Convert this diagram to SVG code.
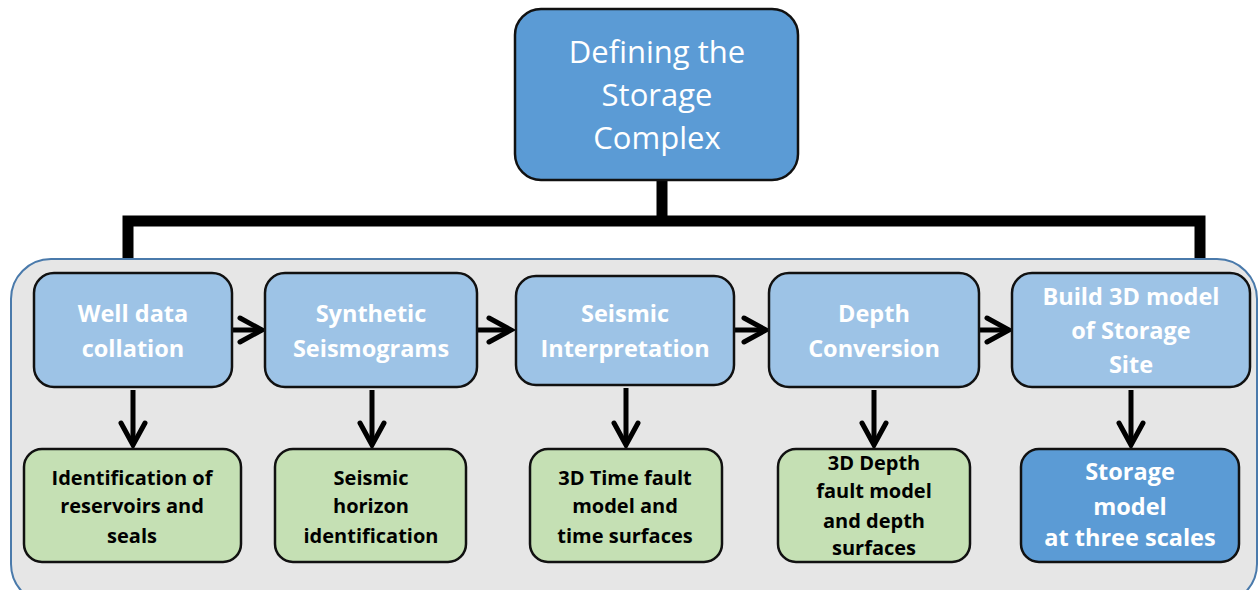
<svg xmlns="http://www.w3.org/2000/svg" width="1260" height="590" viewBox="0 0 1260 590">
<defs>
<style>
.bg{fill:#e6e6e6;stroke:#4a7aab;stroke-width:2}
.top{fill:#5b9bd5;stroke:#111;stroke-width:2.5}
.step{fill:#9dc3e6;stroke:#111;stroke-width:2.5}
.out{fill:#c5e0b4;stroke:#111;stroke-width:2.5}
.fin{fill:#5b9bd5;stroke:#111;stroke-width:2.5}
.tt{font-family:"Open Sans","Liberation Sans",sans-serif;font-size:31px;fill:#fff;text-anchor:middle}
.st{font-family:"Open Sans","Liberation Sans",sans-serif;font-size:23.5px;font-weight:bold;fill:#fff;text-anchor:middle}
.ot{font-family:"Open Sans","Liberation Sans",sans-serif;font-size:20px;font-weight:bold;fill:#000;text-anchor:middle}
.ln{fill:none;stroke:#000;stroke-width:5}
.bar{fill:none;stroke:#000;stroke-width:11}
.hd{fill:none;stroke:#000;stroke-width:5;stroke-linejoin:miter;stroke-linecap:round}
</style>
</defs>
<rect x="0" y="0" width="1260" height="590" fill="#fff"/>
<g id="container"><rect class="bg" x="11" y="259" width="1246" height="345" rx="40"/></g>
<g id="connectors">
<path class="bar" d="M662,180 V221 M128,258 V221 H1200 V258"/>
<path class="ln" d="M232,330 H260 M477,330 H511 M734,330 H764 M979,330 H1007"/>
<path class="hd" d="M240,318 L262,330 L240,342 M489,318 L511,330 L489,342 M744,318 L766,330 L744,342 M987,318 L1009,330 L987,342"/>
<path class="ln" d="M133,390 V443 M372,390 V443 M626,388 V443 M874,390 V443 M1131,390 V443"/>
<path class="hd" d="M121,423 L133,445 L145,423 M360,423 L372,445 L384,423 M614,423 L626,445 L638,423 M862,423 L874,445 L886,423 M1119,423 L1131,445 L1143,423"/>
</g>
<g id="n-top"><rect class="top" x="515" y="9" width="283" height="171" rx="26"/>
<text class="tt" x="657" y="63">Defining the</text><text class="tt" x="657" y="106">Storage</text><text class="tt" x="657" y="149">Complex</text></g>
<g id="n-well"><rect class="step" x="34" y="273" width="198" height="114" rx="20"/>
<text class="st" x="133" y="322">Well data</text><text class="st" x="133" y="357">collation</text></g>
<g id="n-synth"><rect class="step" x="265" y="273" width="212" height="114" rx="20"/>
<text class="st" x="371" y="322">Synthetic</text><text class="st" x="371" y="357">Seismograms</text></g>
<g id="n-interp"><rect class="step" x="516" y="276" width="218" height="109" rx="20"/>
<text class="st" x="625" y="322">Seismic</text><text class="st" x="625" y="357">Interpretation</text></g>
<g id="n-depth"><rect class="step" x="769" y="273" width="210" height="114" rx="20"/>
<text class="st" x="874" y="322">Depth</text><text class="st" x="874" y="357">Conversion</text></g>
<g id="n-build"><rect class="step" x="1012" y="273" width="238" height="114" rx="20"/>
<text class="st" x="1131" y="305">Build 3D model</text><text class="st" x="1131" y="339">of Storage</text><text class="st" x="1131" y="373">Site</text></g>
<g id="n-ident"><rect class="out" x="24" y="449" width="217" height="113" rx="18"/>
<text class="ot" x="132" y="485">Identification of</text><text class="ot" x="132" y="513">reservoirs and</text><text class="ot" x="132" y="543">seals</text></g>
<g id="n-horizon"><rect class="out" x="275" y="449" width="191" height="113" rx="18"/>
<text class="ot" x="371" y="485">Seismic</text><text class="ot" x="371" y="513">horizon</text><text class="ot" x="371" y="543">identification</text></g>
<g id="n-time"><rect class="out" x="530" y="449" width="192" height="113" rx="18"/>
<text class="ot" x="625" y="485">3D Time fault</text><text class="ot" x="625" y="513">model and</text><text class="ot" x="625" y="543">time surfaces</text></g>
<g id="n-depthmodel"><rect class="out" x="778" y="449" width="192" height="113" rx="18"/>
<text class="ot" x="874" y="470">3D Depth</text><text class="ot" x="874" y="498">fault model</text><text class="ot" x="874" y="528">and depth</text><text class="ot" x="874" y="555">surfaces</text></g>
<g id="n-storage"><rect class="fin" x="1021" y="449" width="218" height="113" rx="18"/>
<text class="st" x="1130" y="480">Storage</text><text class="st" x="1130" y="515">model</text><text class="st" x="1130" y="546">at three scales</text></g>
</svg>
